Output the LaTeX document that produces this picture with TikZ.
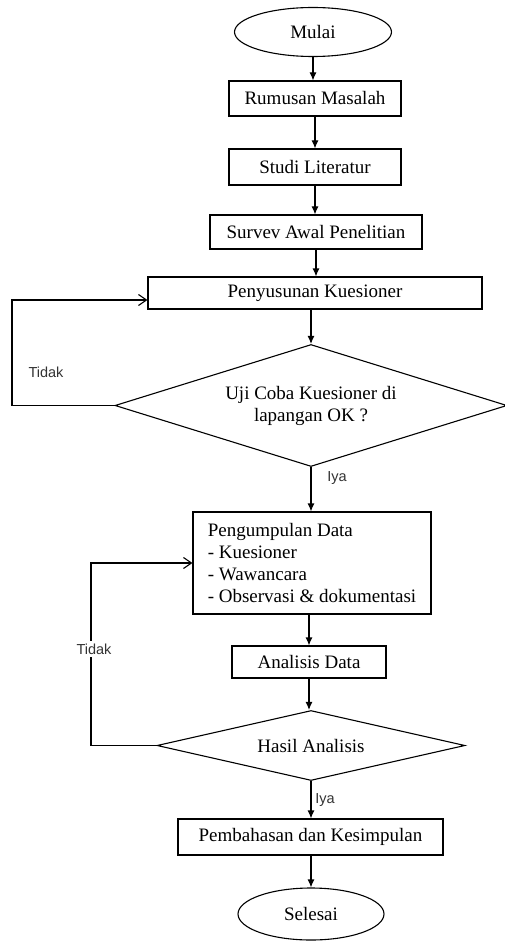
\documentclass[tikz,border=0pt]{standalone}
\usepackage{fontspec}
\setmainfont{Liberation Serif}
\newfontfamily\arialfont{Liberation Sans}
\usetikzlibrary{shapes.geometric,arrows.meta}
\begin{document}
\begin{tikzpicture}[x=1pt,y=-1pt,
  every node/.style={font=\fontsize{19}{22}\selectfont},
  proc/.style={draw, line width=1.1pt, rectangle, inner sep=0pt},
  term/.style={draw, line width=1.1pt, ellipse, inner sep=0pt},
  dec/.style={draw, line width=1.1pt, diamond, inner sep=0pt, aspect=3},
  arr/.style={line width=1.1pt, -{Latex[length=8pt,width=7pt]}},
  fb/.style={line width=1.1pt, -{Straight Barb[length=8pt,width=11pt]}},
  lab/.style={font=\arialfont\fontsize{14.5}{16}\selectfont, text=black!80, inner sep=1pt}]
\useasboundingbox (0,0) rectangle (504,941);
\fill[white] (0,0) rectangle (504,941);

\node[term, minimum width=157pt, minimum height=49pt] (mulai) at (313,32) {Mulai};
\node[proc, minimum width=172pt, minimum height=35pt] (rum) at (315,98.5) {Rumusan Masalah};
\node[proc, minimum width=172pt, minimum height=36pt] (stu) at (315,167) {Studi Literatur};
\node[proc, minimum width=212pt, minimum height=34pt] (sur) at (316,232) {Survev Awal Penelitian};
\node[proc, minimum width=334pt, minimum height=32pt] (pen) at (315,293) {Penyusunan Kuesioner};
\node[dec, minimum width=392pt, minimum height=122pt, align=center] (uji) at (311,405.5) {Uji Coba Kuesioner di\\lapangan OK ?};
\node[proc, minimum width=238pt, minimum height=102pt, align=left] (peng) at (312,563) {Pengumpulan Data\\- Kuesioner\\- Wawancara\\- Observasi \& dokumentasi};
\node[proc, minimum width=154pt, minimum height=32pt] (ana) at (309,662) {Analisis Data};
\node[dec, minimum width=308pt, minimum height=70pt] (has) at (311,745.5) {Hasil Analisis};
\node[proc, minimum width=265pt, minimum height=36pt] (pem) at (310.5,837) {Pembahasan dan Kesimpulan};
\node[term, minimum width=146pt, minimum height=52pt] (sel) at (311,914) {Selesai};

\draw[arr] (mulai) -- (mulai |- rum.north);
\draw[arr] (rum) -- (rum |- stu.north);
\draw[arr] (stu) -- (stu |- sur.north);
\draw[arr] (sur) -- (sur |- pen.north);
\draw[arr] (uji.north |- pen.south) -- (uji.north);
\draw[arr] (uji.south) -- (uji.south |- peng.north);
\draw[arr] (ana.north |- peng.south) -- (ana.north);
\draw[arr] (ana) -- (ana |- has.north);
\draw[arr] (has.south) -- (has.south |- pem.north);
\draw[arr] (pem.south -| sel.north) -- (sel.north);

\coordinate (fb1) at (12,0);
\coordinate (fb2) at (91,0);
\draw[fb] (uji.west) -- (uji.west -| fb1) |- ([yshift=-7pt]pen.west);
\draw[fb] (has.west) -- (has.west -| fb2) |- (peng.west);

\node[lab] (t1) at (46,372) {Tidak};
\node[lab, fill=white, inner ysep=3pt] (t2) at (94,649) {Tidak};
\node[lab] (i1) at (337,478) {Iya};
\node[lab] (i2) at (325,800) {Iya};
\end{tikzpicture}
\end{document}
